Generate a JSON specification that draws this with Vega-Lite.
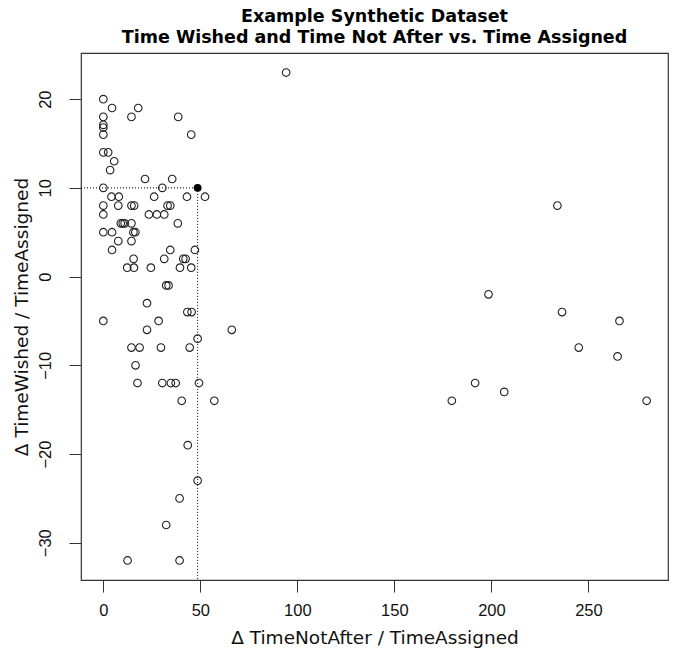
{
  "$schema": "https://vega.github.io/schema/vega-lite/v6.json",
  "autosize": "none",
  "width": 587,
  "height": 527,
  "padding": {"left": 81, "top": 53, "right": 5, "bottom": 76},
  "background": "white",
  "config": {
    "view": {"stroke": "#333", "strokeWidth": 1.2},
    "axis": {"grid": false, "domain": false, "tickColor": "#333", "tickSize": 12, "labelFont": "Liberation Sans", "labelFontSize": 16.5, "labelColor": "#111", "titleFont": "DejaVu Sans", "titleFontSize": 18.5, "titleFontWeight": "normal", "titleColor": "#111"}
  },
  "title": {
    "text": ["Example Synthetic Dataset", "Time Wished and Time Not After vs. Time Assigned"],
    "font": "DejaVu Sans",
    "fontSize": 17.5,
    "fontWeight": "bold",
    "lineHeight": 21,
    "anchor": "middle",
    "offset": 7,
    "color": "#000"
  },
  "datasets": {
    "pts": [
      {"x": 0, "y": 20, "kind": "open"}, {"x": 4.5, "y": 19, "kind": "open"}, {"x": 18, "y": 19, "kind": "open"},
      {"x": 0, "y": 18, "kind": "open"}, {"x": 14.5, "y": 18, "kind": "open"}, {"x": 38.6, "y": 18, "kind": "open"},
      {"x": 0, "y": 17.1, "kind": "open"}, {"x": 0, "y": 16.8, "kind": "open"}, {"x": 0, "y": 16, "kind": "open"},
      {"x": 45.3, "y": 16, "kind": "open"}, {"x": 0, "y": 14, "kind": "open"}, {"x": 2.5, "y": 14, "kind": "open"},
      {"x": 5.6, "y": 13, "kind": "open"}, {"x": 3.5, "y": 12, "kind": "open"}, {"x": 21.5, "y": 11, "kind": "open"},
      {"x": 35.5, "y": 11, "kind": "open"}, {"x": 0, "y": 10, "kind": "open"}, {"x": 30.4, "y": 10, "kind": "open"},
      {"x": 52.4, "y": 9, "kind": "open"}, {"x": 4.2, "y": 9, "kind": "open"}, {"x": 8, "y": 9, "kind": "open"},
      {"x": 26.2, "y": 9, "kind": "open"}, {"x": 43.1, "y": 9, "kind": "open"}, {"x": 0, "y": 8, "kind": "open"},
      {"x": 7.7, "y": 8, "kind": "open"}, {"x": 14.5, "y": 8, "kind": "open"}, {"x": 15.9, "y": 8, "kind": "open"},
      {"x": 33.1, "y": 8, "kind": "open"}, {"x": 34.5, "y": 8, "kind": "open"}, {"x": 0, "y": 7, "kind": "open"},
      {"x": 23.5, "y": 7, "kind": "open"}, {"x": 27.6, "y": 7, "kind": "open"}, {"x": 31.4, "y": 7, "kind": "open"},
      {"x": 9, "y": 6, "kind": "open"}, {"x": 10, "y": 6, "kind": "open"}, {"x": 11, "y": 6, "kind": "open"},
      {"x": 14.5, "y": 6, "kind": "open"}, {"x": 38.4, "y": 6, "kind": "open"}, {"x": 0, "y": 5, "kind": "open"},
      {"x": 4.5, "y": 5, "kind": "open"}, {"x": 15.5, "y": 5, "kind": "open"}, {"x": 16.5, "y": 5, "kind": "open"},
      {"x": 7.7, "y": 4, "kind": "open"}, {"x": 14.5, "y": 4, "kind": "open"}, {"x": 4.5, "y": 3, "kind": "open"},
      {"x": 34.5, "y": 3, "kind": "open"}, {"x": 47.2, "y": 3, "kind": "open"}, {"x": 15.6, "y": 2, "kind": "open"},
      {"x": 31.4, "y": 2, "kind": "open"}, {"x": 41.2, "y": 2, "kind": "open"}, {"x": 42.4, "y": 2, "kind": "open"},
      {"x": 12.3, "y": 1, "kind": "open"}, {"x": 15.8, "y": 1, "kind": "open"}, {"x": 24.5, "y": 1, "kind": "open"},
      {"x": 39.5, "y": 1, "kind": "open"}, {"x": 45.3, "y": 1, "kind": "open"}, {"x": 32.4, "y": -1, "kind": "open"},
      {"x": 33.6, "y": -1, "kind": "open"}, {"x": 22.5, "y": -3, "kind": "open"}, {"x": 43.3, "y": -4, "kind": "open"},
      {"x": 45.5, "y": -4, "kind": "open"}, {"x": 0, "y": -5, "kind": "open"}, {"x": 28.5, "y": -5, "kind": "open"},
      {"x": 22.5, "y": -6, "kind": "open"}, {"x": 48.6, "y": -7, "kind": "open"}, {"x": 14.5, "y": -8, "kind": "open"},
      {"x": 18.7, "y": -8, "kind": "open"}, {"x": 29.7, "y": -8, "kind": "open"}, {"x": 44.5, "y": -8, "kind": "open"},
      {"x": 16.6, "y": -10, "kind": "open"}, {"x": 17.6, "y": -12, "kind": "open"}, {"x": 30.4, "y": -12, "kind": "open"},
      {"x": 34.8, "y": -12, "kind": "open"}, {"x": 37.3, "y": -12, "kind": "open"}, {"x": 49.3, "y": -12, "kind": "open"},
      {"x": 40.4, "y": -14, "kind": "open"}, {"x": 57.2, "y": -14, "kind": "open"}, {"x": 43.5, "y": -19, "kind": "open"},
      {"x": 48.6, "y": -23, "kind": "open"}, {"x": 39.3, "y": -25, "kind": "open"}, {"x": 32.4, "y": -28, "kind": "open"},
      {"x": 12.5, "y": -32, "kind": "open"}, {"x": 39.3, "y": -32, "kind": "open"},
      {"x": 94.2, "y": 23, "kind": "open"}, {"x": 66.2, "y": -6, "kind": "open"}, {"x": 234, "y": 8, "kind": "open"},
      {"x": 198.5, "y": -2, "kind": "open"}, {"x": 236.4, "y": -4, "kind": "open"}, {"x": 266, "y": -5, "kind": "open"},
      {"x": 245, "y": -8, "kind": "open"}, {"x": 265, "y": -9, "kind": "open"}, {"x": 191.6, "y": -12, "kind": "open"},
      {"x": 206.6, "y": -13, "kind": "open"}, {"x": 179.6, "y": -14, "kind": "open"}, {"x": 280, "y": -14, "kind": "open"},
      {"x": 48.6, "y": 10, "kind": "filled"}
    ],
    "guides": [
      {"x": -11.5, "x2": 48.6, "y": 10, "y2": 10},
      {"x": 48.6, "x2": 48.6, "y": 10, "y2": -34.2}
    ]
  },
  "layer": [
    {
      "data": {"name": "guides"},
      "mark": {"type": "rule", "color": "#000", "strokeWidth": 1, "strokeDash": [1, 2]},
      "encoding": {
        "x": {"field": "x", "type": "quantitative", "scale": {"domain": [-11.5, 291], "nice": false, "zero": false}},
        "x2": {"field": "x2"},
        "y": {"field": "y", "type": "quantitative", "scale": {"domain": [-34.2, 25.2], "nice": false, "zero": false}},
        "y2": {"field": "y2"}
      }
    },
    {
      "data": {"name": "pts"},
      "transform": [{"filter": "datum.kind == 'open'"}],
      "mark": {"type": "point", "shape": "circle", "filled": false, "size": 58, "stroke": "#222", "strokeWidth": 1.1, "opacity": 1},
      "encoding": {
        "x": {"field": "x", "type": "quantitative", "scale": {"domain": [-11.5, 291], "nice": false, "zero": false},
          "axis": {"values": [0, 50, 100, 150, 200, 250], "title": "Δ TimeNotAfter / TimeAssigned", "labelPadding": 10, "titlePadding": 10}},
        "y": {"field": "y", "type": "quantitative", "scale": {"domain": [-34.2, 25.2], "nice": false, "zero": false},
          "axis": {"values": [-30, -20, -10, 0, 10, 20], "title": "Δ TimeWished / TimeAssigned", "labelAngle": -90, "labelAlign": "center", "labelBaseline": "bottom", "labelPadding": 16, "titlePadding": 6}}
      }
    },
    {
      "data": {"name": "pts"},
      "transform": [{"filter": "datum.kind == 'filled'"}],
      "mark": {"type": "point", "shape": "circle", "filled": true, "size": 62, "color": "#000", "opacity": 1},
      "encoding": {
        "x": {"field": "x", "type": "quantitative"},
        "y": {"field": "y", "type": "quantitative"}
      }
    }
  ]
}
